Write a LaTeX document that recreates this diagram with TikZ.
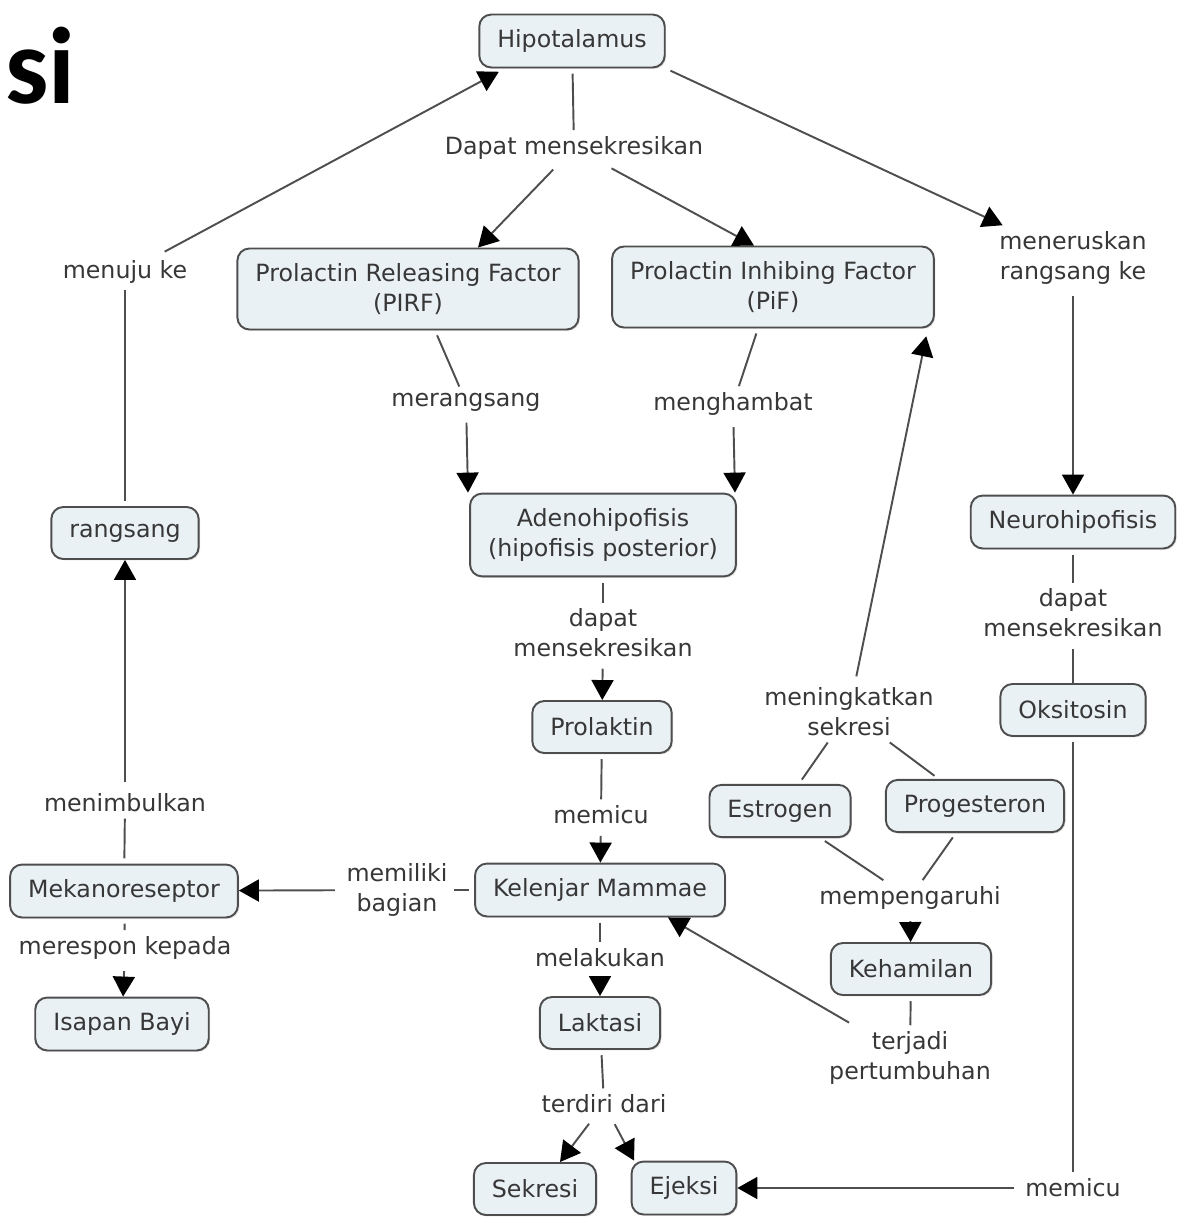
\documentclass[tikz,border=0pt]{standalone}
\usepackage{fontspec}
\setmainfont{DejaVu Sans}
\newfontfamily\judulfont{Carlito}
\usetikzlibrary{arrows.meta}
\usetikzlibrary{shadows}

\definecolor{isikotak}{RGB}{234,241,245}
\definecolor{garis}{RGB}{78,78,78}
\definecolor{teks}{RGB}{55,55,55}

\begin{document}
\begin{tikzpicture}[x=0.02cm, y=-0.02cm,
    every node/.style={font=\fontsize{13.5}{17}\selectfont, text=teks, align=center},
    konsep/.style={draw=garis, line width=1.1pt, rounded corners=0.24cm, fill=isikotak,
      inner xsep=0.36cm, inner ysep=0.3cm, minimum height=1.04cm,
      drop shadow={shadow xshift=0.8pt, shadow yshift=-0.8pt, opacity=0.25}},
    frase/.style={inner sep=0.12cm},
    linea/.style={draw=garis, line width=1.1pt, shorten <=3pt},
    >={Triangle[length=4mm, width=4.4mm, color=black]}]
  \useasboundingbox (0,0) rectangle (1178,1218);

  % Judul
  \node[font=\judulfont\bfseries\fontsize{62}{62}\selectfont, text=black, anchor=base west, inner sep=0pt] (judul) at (5,103) {si};

  % Konsep
  \node[konsep] (hipo) at (572,41) {Hipotalamus};
  \node[konsep] (pirf) at (408,289) {Prolactin Releasing Factor\\(PIRF)};
  \node[konsep] (pif) at (773,287) {Prolactin Inhibing Factor\\(PiF)};
  \node[konsep] (rangsang) at (125,533) {rangsang};
  \node[konsep] (adeno) at (603,535) {Adenohipofisis\\(hipofisis posterior)};
  \node[konsep] (neuro) at (1073,522) {Neurohipofisis};
  \node[konsep] (prolaktin) at (602,727) {Prolaktin};
  \node[konsep] (oksitosin) at (1073,710) {Oksitosin};
  \node[konsep] (estrogen) at (780,811) {Estrogen};
  \node[konsep] (progesteron) at (975,806) {Progesteron};
  \node[konsep] (meka) at (124,891) {Mekanoreseptor};
  \node[konsep] (kelenjar) at (600,890) {Kelenjar Mammae};
  \node[konsep] (kehamilan) at (911,969) {Kehamilan};
  \node[konsep] (isapan) at (122,1024) {Isapan Bayi};
  \node[konsep] (laktasi) at (600,1023) {Laktasi};
  \node[konsep] (sekresi) at (535,1189) {Sekresi};
  \node[konsep] (ejeksi) at (684,1188) {Ejeksi};

  % Frase penghubung
  \node[frase] (dapat) at (574,148) {Dapat mensekresikan};
  \node[frase] (meneruskan) at (1073,258) {meneruskan\\rangsang ke};
  \node[frase] (menuju) at (125,272) {menuju ke};
  \node[frase] (merangsang) at (466,402) {merangsang};
  \node[frase] (menghambat) at (733,404) {menghambat};
  \node[frase] (dapatA) at (603,633) {dapat\\mensekresikan};
  \node[frase] (dapatB) at (1073,613) {dapat\\mensekresikan};
  \node[frase] (meningkat) at (849,712) {meningkatkan\\sekresi};
  \node[frase] (menimbulkan) at (125,803) {menimbulkan};
  \node[frase] (memicuA) at (601,815) {memicu};
  \node[frase] (memiliki) at (397,890) {memiliki\\bagian};
  \node[frase] (mempengaruhi) at (910,898) {mempengaruhi};
  \node[frase] (merespon) at (125,948) {merespon kepada};
  \node[frase] (melakukan) at (600,958) {melakukan};
  \node[frase] (terjadi) at (910,1058) {terjadi\\pertumbuhan};
  \node[frase] (terdiri) at (604,1104) {terdiri dari};
  \node[frase] (memicuB) at (1073,1188) {memicu};

  % Penghubung
  \draw[linea] (hipo) -- (dapat);
  \draw[->, linea] (dapat) -- ([xshift=1.4cm]pirf.north);
  \draw[->, linea] (dapat) -- ([xshift=-0.38cm]pif.north);
  \draw[->, linea] (hipo.south east) -- (meneruskan);
  \draw[->, linea] (meneruskan) -- (neuro);
  \draw[linea] (rangsang) -- (menuju);
  \draw[->, linea, shorten >=0.14cm] ([xshift=0.7cm]menuju.north) -- ([xshift=-1.34cm]hipo.south);
  \draw[linea] (pirf.south -| 435,0) -- (merangsang);
  \draw[->, linea] (merangsang) -- (adeno.north -| 468,0);
  \draw[linea] (pif.south -| 758,0) -- (menghambat);
  \draw[->, linea] (menghambat) -- (adeno.north -| 735,0);
  \draw[linea] (adeno) -- (dapatA);
  \draw[->, linea] (dapatA) -- (prolaktin);
  \draw[linea] (prolaktin) -- (memicuA);
  \draw[->, linea] (memicuA) -- (kelenjar);
  \draw[linea] (kelenjar) -- (memiliki);
  \draw[->, linea] (memiliki) -- (meka);
  \draw[linea] (meka) -- (menimbulkan);
  \draw[->, linea] (menimbulkan) -- (rangsang);
  \draw[linea] (meka) -- (merespon);
  \draw[->, linea] (merespon) -- (isapan);
  \draw[linea] (kelenjar) -- (melakukan);
  \draw[->, linea] (melakukan) -- (laktasi);
  \draw[linea] (laktasi) -- (terdiri);
  \draw[->, linea] (terdiri) -- ([xshift=0.5cm]sekresi.north);
  \draw[->, linea] (terdiri) -- ([xshift=-1cm]ejeksi.north);
  \draw[linea] (estrogen) -- (meningkat);
  \draw[linea] (progesteron) -- (meningkat);
  \draw[->, linea, shorten >=0.16cm] (meningkat) -- ([xshift=-0.14cm]pif.south east);
  \draw[linea] (estrogen) -- (mempengaruhi);
  \draw[linea] (progesteron) -- (mempengaruhi);
  \draw[->, linea] (mempengaruhi) -- (kehamilan);
  \draw[linea] (kehamilan) -- (terjadi);
  \draw[->, linea] (terjadi) -- ([xshift=1.36cm]kelenjar.south);
  \draw[linea] (neuro) -- (dapatB);
  \draw[linea] (dapatB) -- (oksitosin);
  \draw[linea] (oksitosin) -- (memicuB);
  \draw[->, linea] (memicuB) -- (ejeksi);
\end{tikzpicture}
\end{document}
